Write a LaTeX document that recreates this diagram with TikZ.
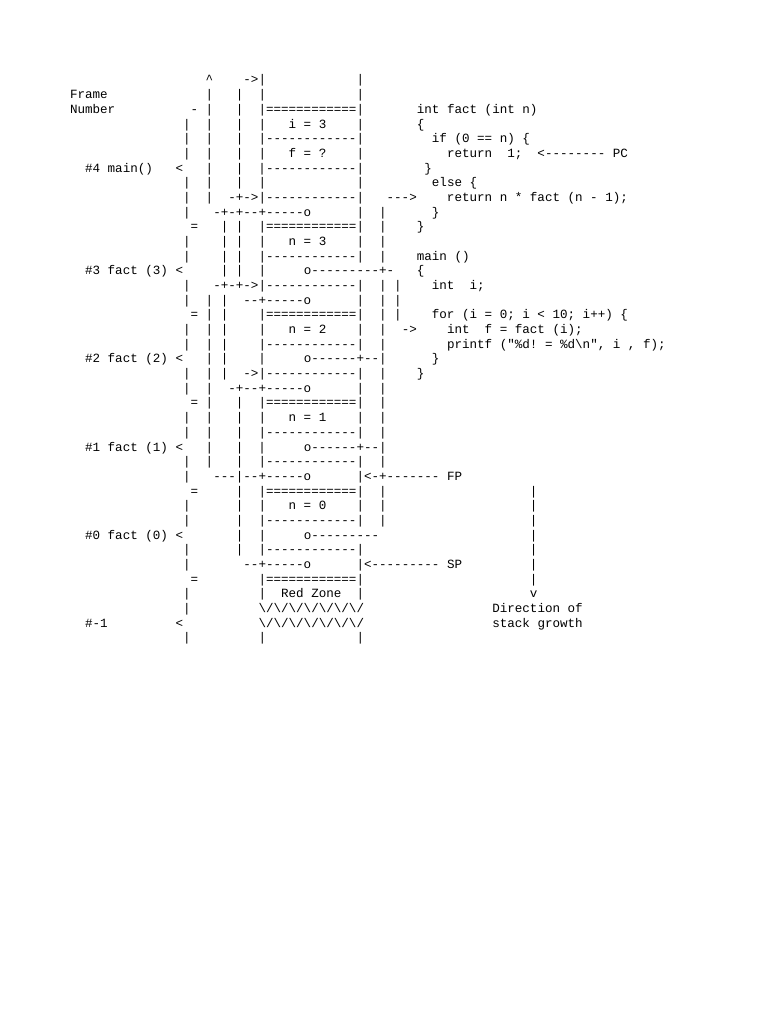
\documentclass[tikz,border=0pt]{standalone}
\usepackage{fontspec}
\setmonofont{Liberation Mono}
\newdimen\cw
\newcommand\asciifont{\ttfamily\fontsize{9.424pt}{11pt}\selectfont\global\cw=\fontcharwd\font`0\relax}
\newcommand\sk[1]{\kern#1\cw\relax}
\newcommand\zz{\textbackslash/\textbackslash/\textbackslash/\textbackslash/\textbackslash/\textbackslash/\textbackslash/}
\tikzset{asc/.style={anchor=base west, inner sep=0pt, outer sep=0pt, font=\asciifont}}
\newcommand\Ln[2]{\node[asc] (L#1) at (70,{84+(#1-1)*14.68}) {#2};}
\begin{document}
\begin{tikzpicture}[x=0.75pt,y=-0.75pt]
\fill[white] (0,0) rectangle (768,1024);
\useasboundingbox (0,0) rectangle (768,1024);
\Ln{1}{\sk{18}\textasciicircum\sk{4}->|\sk{12}|}
\Ln{2}{Frame\sk{13}|\sk{3}|\sk{2}|\sk{12}|}
\Ln{3}{Number\sk{10}-\sk{1}|\sk{3}|\sk{2}|============|\sk{7}int fact (int n)}
\Ln{4}{\sk{15}|\sk{2}|\sk{3}|\sk{2}|\sk{3}i = 3\sk{4}|\sk{7}\{}
\Ln{5}{\sk{15}|\sk{2}|\sk{3}|\sk{2}|------------|\sk{9}if (0 == n) \{}
\Ln{6}{\sk{15}|\sk{2}|\sk{3}|\sk{2}|\sk{3}f = ?\sk{4}|\sk{11}return\sk{2}1;\sk{2}<-------- PC}
\Ln{7}{\sk{2}\#4 main()\sk{3}<\sk{3}|\sk{3}|\sk{2}|------------|\sk{8}\}}
\Ln{8}{\sk{15}|\sk{2}|\sk{3}|\sk{2}|\sk{12}|\sk{9}else \{}
\Ln{9}{\sk{15}|\sk{2}|\sk{2}-+->|------------|\sk{3}--->\sk{4}return n * fact (n - 1);}
\Ln{10}{\sk{15}|\sk{3}-+-+--+-----o\sk{6}|\sk{2}|\sk{6}\}}
\Ln{11}{\sk{16}=\sk{3}|\sk{1}|\sk{2}|============|\sk{2}|\sk{4}\}}
\Ln{12}{\sk{15}|\sk{4}|\sk{1}|\sk{2}|\sk{3}n = 3\sk{4}|\sk{2}|}
\Ln{13}{\sk{15}|\sk{4}|\sk{1}|\sk{2}|------------|\sk{2}|\sk{4}main ()}
\Ln{14}{\sk{2}\#3 fact (3) <\sk{5}|\sk{1}|\sk{2}|\sk{5}o---------+-\sk{3}\{}
\Ln{15}{\sk{15}|\sk{3}-+-+->|------------|\sk{2}|\sk{1}|\sk{4}int\sk{2}i;}
\Ln{16}{\sk{15}|\sk{2}|\sk{1}|\sk{2}--+-----o\sk{6}|\sk{2}|\sk{1}|}
\Ln{17}{\sk{16}=\sk{1}|\sk{1}|\sk{4}|============|\sk{2}|\sk{1}|\sk{4}for (i = 0; i < 10; i++) \{}
\Ln{18}{\sk{15}|\sk{2}|\sk{1}|\sk{4}|\sk{3}n = 2\sk{4}|\sk{2}|\sk{2}->\sk{4}int\sk{2}f = fact (i);}
\Ln{19}{\sk{15}|\sk{2}|\sk{1}|\sk{4}|------------|\sk{2}|\sk{8}printf ("\%d! = \%d\textbackslash n", i , f);}
\Ln{20}{\sk{2}\#2 fact (2) <\sk{3}|\sk{1}|\sk{4}|\sk{5}o------+--|\sk{6}\}}
\Ln{21}{\sk{15}|\sk{2}|\sk{1}|\sk{2}->|------------|\sk{2}|\sk{4}\}}
\Ln{22}{\sk{15}|\sk{2}|\sk{2}-+--+-----o\sk{6}|\sk{2}|}
\Ln{23}{\sk{16}=\sk{1}|\sk{3}|\sk{2}|============|\sk{2}|}
\Ln{24}{\sk{15}|\sk{2}|\sk{3}|\sk{2}|\sk{3}n = 1\sk{4}|\sk{2}|}
\Ln{25}{\sk{15}|\sk{2}|\sk{3}|\sk{2}|------------|\sk{2}|}
\Ln{26}{\sk{2}\#1 fact (1) <\sk{3}|\sk{3}|\sk{2}|\sk{5}o------+--|}
\Ln{27}{\sk{15}|\sk{2}|\sk{3}|\sk{2}|------------|\sk{2}|}
\Ln{28}{\sk{15}|\sk{3}---|--+-----o\sk{6}|<-+------- FP}
\Ln{29}{\sk{16}=\sk{5}|\sk{2}|============|\sk{2}|\sk{19}|}
\Ln{30}{\sk{15}|\sk{6}|\sk{2}|\sk{3}n = 0\sk{4}|\sk{2}|\sk{19}|}
\Ln{31}{\sk{15}|\sk{6}|\sk{2}|------------|\sk{2}|\sk{19}|}
\Ln{32}{\sk{2}\#0 fact (0) <\sk{7}|\sk{2}|\sk{5}o---------\sk{20}|}
\Ln{33}{\sk{15}|\sk{6}|\sk{2}|------------|\sk{22}|}
\Ln{34}{\sk{15}|\sk{7}--+-----o\sk{6}|<--------- SP\sk{9}|}
\Ln{35}{\sk{16}=\sk{8}|============|\sk{22}|}
\Ln{36}{\sk{15}|\sk{9}|\sk{2}Red Zone\sk{2}|\sk{22}v}
\Ln{37}{\sk{15}|\sk{9}\zz\sk{17}Direction of}
\Ln{38}{\sk{2}\#-1\sk{9}<\sk{10}\zz\sk{17}stack growth}
\Ln{39}{\sk{15}|\sk{9}|\sk{12}|}
\end{tikzpicture}
\end{document}
